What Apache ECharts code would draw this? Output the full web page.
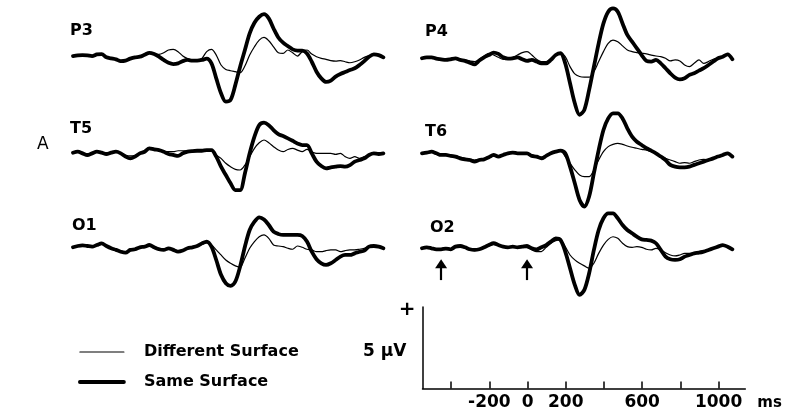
<!DOCTYPE html>
<html><head><meta charset="utf-8">
<script src="https://cdn.jsdelivr.net/npm/echarts@6/dist/echarts.min.js"></script>
<style>html,body{margin:0;padding:0;background:#fff}#chart{width:788px;height:416px}</style>
</head><body><div id="chart"></div>
<script>
// Sample times (ms) of the averaged ERP epochs
const times = [-550,-525,-500,-475,-450,-425,-400,-375,-350,-325,
  -300,-275,-250,-225,-200,-175,-150,-125,-100,-75,
  -50,-25,0,25,50,75,100,125,150,175,
  200,225,250,275,300,325,350,375,400,425,
  450,475,500,525,550,575,600,625,650,675,
  700,725,750,775,800,825,850,875,900,925,
  950,975,1000,1025,1050,1075];

const seriesNames = ['Different Surface', 'Same Surface'];
const panelNames = ['P3', 'P4', 'T5', 'T6', 'O1', 'O2'];

// Amplitudes in microvolts, positive up
const sameP3 = [0.04,0.08,0.10,0.08,0.04,0.14,0.16,-0.04,-0.10,-0.16,
  -0.27,-0.24,-0.12,-0.04,0,0.12,0.24,0.16,0,-0.20,
  -0.37,-0.45,-0.41,-0.27,-0.20,-0.24,-0.24,-0.20,-0.12,-0.41,
  -1.33,-2.24,-2.76,-2.65,-1.73,-0.61,0.41,1.43,2.08,2.45,
  2.61,2.35,1.73,1.18,0.86,0.65,0.45,0.37,0.37,0.20,
  -0.31,-0.92,-1.33,-1.55,-1.47,-1.22,-1.06,-0.94,-0.82,-0.71,
  -0.51,-0.27,0,0.14,0.10,-0.04];
const diffP3 = [0.04,0.08,0.10,0.08,0.04,0.14,0.16,-0.04,-0.10,-0.16,
  -0.27,-0.24,-0.12,-0.04,0,0.12,0.20,0.16,0.14,0.24,
  0.41,0.45,0.31,0.04,-0.12,-0.20,-0.20,-0.10,0.31,0.45,
  0.10,-0.51,-0.78,-0.86,-0.92,-0.98,-0.57,0.10,0.61,1.02,
  1.18,0.98,0.61,0.24,0.20,0.41,0.24,0.04,0.31,0.41,
  0.16,0,-0.10,-0.16,-0.24,-0.27,-0.24,-0.31,-0.37,-0.31,
  -0.20,-0.04,0.06,0.14,0.10,-0.04];

const sameP4 = [0,0.06,0.06,-0.02,-0.06,-0.10,-0.06,0,-0.10,-0.16,
  -0.27,-0.37,-0.14,0.06,0.20,0.35,0.27,0.06,-0.02,0,
  0.06,-0.06,-0.16,-0.10,-0.20,-0.31,-0.31,-0.10,0.20,0.31,
  -0.31,-1.53,-2.76,-3.47,-3.16,-1.94,-0.51,0.92,2.14,2.86,
  3.06,2.86,2.14,1.43,1.02,0.61,0.20,-0.16,-0.20,-0.10,
  -0.31,-0.61,-0.92,-1.18,-1.29,-1.22,-1.02,-0.92,-0.76,-0.61,
  -0.41,-0.20,0,0.10,0.24,-0.06];
const diffP4 = [0,0.04,0.06,-0.04,-0.10,-0.06,0,0.04,-0.06,-0.10,
  -0.16,-0.20,-0.06,0.14,0.31,0.20,0.06,-0.06,0,0.06,
  0.20,0.35,0.41,0.20,-0.06,-0.20,-0.20,0,0.20,0.35,
  0.10,-0.51,-0.96,-1.12,-1.16,-1.16,-0.82,-0.20,0.41,0.92,
  1.12,1.02,0.76,0.51,0.41,0.35,0.31,0.27,0.20,0.14,
  0.10,0,-0.16,-0.10,-0.16,-0.41,-0.51,-0.31,-0.10,-0.31,
  -0.20,-0.06,0,0.10,0.24,-0.06];

const sameT5 = [0,0.06,-0.04,-0.14,-0.04,0.06,0,-0.08,0,0.06,
  -0.04,-0.24,-0.35,-0.24,-0.04,0.06,0.27,0.20,0.16,0.06,
  -0.08,-0.14,-0.20,-0.04,0.06,0.10,0.12,0.12,0.16,0.16,
  -0.24,-0.86,-1.37,-1.88,-2.29,-2.29,-1.27,-0.04,0.98,1.69,
  1.84,1.69,1.39,1.14,1.02,0.88,0.73,0.57,0.47,0.47,
  -0.04,-0.55,-0.82,-0.96,-0.90,-0.86,-0.82,-0.86,-0.76,-0.55,
  -0.45,-0.35,-0.14,-0.04,-0.08,-0.04];
const diffT5 = [0.02,0.06,-0.02,-0.10,-0.04,0.06,0.02,-0.06,0,0.06,
  0,-0.14,-0.20,-0.16,-0.04,0.08,0.24,0.20,0.16,0.08,
  0.06,0.06,0.12,0.12,0.12,0.10,0.12,0.12,0.16,0.16,
  -0.14,-0.35,-0.65,-0.86,-1.02,-1.06,-0.76,-0.24,0.27,0.61,
  0.78,0.61,0.37,0.16,0.06,0.20,0.27,0.16,0.06,0.20,
  0.06,-0.04,-0.04,-0.04,-0.04,-0.10,-0.04,-0.24,-0.35,-0.24,
  -0.35,-0.24,-0.14,-0.04,-0.08,-0.04];

const sameT6 = [0,0.04,0.10,0,-0.10,-0.10,-0.16,-0.20,-0.31,-0.37,
  -0.41,-0.51,-0.41,-0.37,-0.24,-0.10,-0.20,-0.10,0,0.04,
  0,0,0,-0.16,-0.20,-0.31,-0.16,0,0.10,0.16,
  0,-0.82,-1.84,-2.86,-3.27,-2.65,-1.22,0.20,1.43,2.14,
  2.45,2.45,2.14,1.53,1.02,0.71,0.51,0.31,0.16,0,
  -0.20,-0.41,-0.71,-0.82,-0.86,-0.86,-0.82,-0.71,-0.61,-0.51,
  -0.41,-0.31,-0.20,-0.10,0,-0.20];
const diffT6 = [0.02,0.06,0.08,0.02,-0.06,-0.08,-0.12,-0.16,-0.24,-0.31,
  -0.35,-0.41,-0.37,-0.33,-0.27,-0.18,-0.14,-0.08,0,0.04,
  0.02,0.02,0,-0.10,-0.16,-0.24,-0.14,0,0.10,0.14,
  -0.20,-0.61,-1.02,-1.33,-1.43,-1.43,-1.02,-0.41,0.10,0.41,
  0.55,0.61,0.55,0.45,0.37,0.31,0.24,0.20,0.10,0,
  -0.16,-0.31,-0.41,-0.51,-0.61,-0.57,-0.61,-0.51,-0.41,-0.37,
  -0.41,-0.31,-0.20,-0.10,0,-0.20];

const sameO1 = [0,0.08,0.12,0.08,0.04,0.14,0.24,0.08,-0.06,-0.16,
  -0.27,-0.33,-0.16,-0.12,0,0.04,0.14,0,-0.12,-0.16,
  -0.06,-0.16,-0.27,-0.20,-0.06,0,0.08,0.24,0.35,0.04,
  -0.78,-1.69,-2.20,-2.37,-2.10,-1.18,0.04,1.06,1.57,1.84,
  1.71,1.37,0.96,0.82,0.76,0.76,0.76,0.76,0.69,0.35,
  -0.27,-0.73,-0.98,-1.08,-0.98,-0.78,-0.57,-0.47,-0.47,-0.37,
  -0.27,-0.20,0.04,0.08,0.04,-0.06];
const diffO1 = [0.02,0.06,0.10,0.10,0.06,0.12,0.18,0.06,-0.04,-0.12,
  -0.22,-0.27,-0.18,-0.08,0.02,0.06,0.10,0.04,-0.06,-0.12,
  -0.10,-0.12,-0.20,-0.16,-0.06,0,0.06,0.18,0.27,0.14,
  -0.16,-0.47,-0.78,-0.98,-1.14,-1.22,-0.67,-0.06,0.35,0.65,
  0.76,0.55,0.14,0.08,0.04,-0.06,-0.12,0.08,0,-0.12,
  -0.16,-0.27,-0.27,-0.20,-0.16,-0.16,-0.27,-0.20,-0.16,-0.16,
  -0.12,-0.06,0.04,0.08,0.04,-0.06];

const sameO2 = [0,0.06,0,-0.06,-0.06,-0.02,-0.06,0.10,0.14,0.06,
  -0.06,-0.10,-0.06,0.06,0.20,0.31,0.20,0.10,0.06,0.10,
  0.06,0.10,0.14,0,-0.06,0.06,0.20,0.41,0.61,0.51,
  -0.20,-1.22,-2.24,-2.86,-2.55,-1.53,-0.10,1.12,1.84,2.14,
  2.14,1.84,1.43,1.12,0.92,0.71,0.55,0.51,0.47,0.31,
  -0.10,-0.51,-0.67,-0.71,-0.67,-0.51,-0.41,-0.31,-0.27,-0.20,
  -0.10,0,0.10,0.20,0.10,-0.06];
const diffO2 = [0.02,0.04,0.02,-0.04,-0.08,-0.04,-0.02,0.06,0.08,0.02,
  -0.10,-0.14,-0.08,0.04,0.14,0.24,0.18,0.10,0.06,0.08,
  0.04,0.06,0.04,-0.10,-0.20,-0.20,0.06,0.31,0.47,0.51,
  0.10,-0.41,-0.71,-0.92,-1.08,-1.22,-0.92,-0.31,0.20,0.55,
  0.71,0.61,0.31,0.10,0.06,0.10,0.06,-0.06,-0.10,0,
  -0.10,-0.27,-0.41,-0.47,-0.41,-0.31,-0.31,-0.27,-0.20,-0.14,
  -0.10,0,0.10,0.20,0.10,-0.06];

// Stimulus onset markers (ms) shown under O2
const arrowTimes = [-450, 0];

// Calibration bar: time ticks and labelled ticks (ms), amplitude (µV)
const scaleTicks = [-400, -200, 0, 200, 400, 600, 800, 1000];
const scaleLabels = [-200, 0, 200, 600, 1000];
const scaleAmplitude = 5;

// ---- layout ----
const FONT = 'DejaVu Sans';
const pxPerMs = 0.191;
const pxPerUv = 16.3;
const tMin = -550, tMax = 1075;
const colLeft = [73, 422];
const rowBase = [[56.7, 58.3], [152.7, 153.3], [247.3, 248.3]];
const labelPos = [[70, 32], [425, 33], [70, 130], [425, 133], [72, 227], [430, 229]];
const uvRange = 5;

const sameData = [sameP3, sameP4, sameT5, sameT6, sameO1, sameO2];
const diffData = [diffP3, diffP4, diffT5, diffT6, diffO1, diffO2];

const grids = [], xAxes = [], yAxes = [], series = [], titles = [];
const pair = vals => times.map((t, i) => [t, vals[i]]);

panelNames.forEach((name, i) => {
  const row = Math.floor(i / 2), col = i % 2;
  const base = rowBase[row][col];
  grids.push({
    left: colLeft[col], top: base - uvRange * pxPerUv,
    width: (tMax - tMin) * pxPerMs, height: 2 * uvRange * pxPerUv,
    outerBoundsMode: 'none', containLabel: false
  });
  xAxes.push({ gridIndex: i, type: 'value', min: tMin, max: tMax, show: false });
  yAxes.push({ gridIndex: i, type: 'value', min: -uvRange, max: uvRange, show: false });
  const lineBase = {
    type: 'line', xAxisIndex: i, yAxisIndex: i, symbol: 'none', smooth: 0.3,
    clip: false, silent: true, itemStyle: { color: '#000' }
  };
  const same = Object.assign({}, lineBase, {
    name: seriesNames[1], data: pair(sameData[i]),
    lineStyle: { color: '#000', width: 3.8, cap: 'round', join: 'round' }, z: 2
  });
  const diff = Object.assign({}, lineBase, {
    name: seriesNames[0], data: pair(diffData[i]),
    lineStyle: { color: '#000', width: 1.2, cap: 'round', join: 'round' }, z: 3
  });
  if (name === 'O2') {
    same.markLine = {
      silent: true, symbol: ['none', 'triangle'], symbolSize: [12, 9],
      lineStyle: { color: '#000', width: 2.2, type: 'solid' }, label: { show: false },
      data: arrowTimes.map(t => [{ coord: [t, -1.95] }, { coord: [t, -0.95] }])
    };
  }
  series.push(same, diff);
  titles.push({
    text: name, left: labelPos[i][0], top: labelPos[i][1] - 9, padding: 0,
    textStyle: { fontFamily: FONT, fontWeight: 'bold', fontSize: 16, color: '#000' }
  });
});

titles.push({
  text: 'A', left: 37, top: 136, padding: 0,
  textStyle: { fontFamily: FONT, fontWeight: 'normal', fontSize: 17, color: '#000' }
});

// calibration axes
const si = panelNames.length;
const scaleMax = 1140;
grids.push({
  left: 422.5, top: 307, width: (scaleMax - tMin) * pxPerMs, height: scaleAmplitude * pxPerUv,
  outerBoundsMode: 'none', containLabel: false
});
xAxes.push({
  gridIndex: si, type: 'value', min: tMin, max: scaleMax,
  axisLine: { onZero: false, lineStyle: { color: '#000', width: 1.5 } },
  axisTick: { show: true, inside: true, length: 7, customValues: scaleTicks, lineStyle: { color: '#000', width: 1.5 } },
  axisLabel: {
    customValues: scaleLabels, formatter: v => String(v), margin: 6,
    color: '#000', fontFamily: FONT, fontWeight: 'bold', fontSize: 17
  },
  splitLine: { show: false },
  name: 'ms', nameLocation: 'end', nameGap: 12, nameMoveOverlap: false,
  nameTextStyle: { fontFamily: FONT, fontWeight: 'bold', fontSize: 15, color: '#000', verticalAlign: 'top', padding: [7, 0, 0, 0] }
});
yAxes.push({
  gridIndex: si, type: 'value', min: 0, max: scaleAmplitude,
  axisLine: { show: true, onZero: false, lineStyle: { color: '#000', width: 1.5 } },
  axisTick: { show: false },
  axisLabel: {
    customValues: [scaleAmplitude], formatter: () => '+', margin: 7, verticalAlign: 'top', lineHeight: 5,
    color: '#000', fontFamily: FONT, fontWeight: 'bold', fontSize: 20
  },
  splitLine: { show: false },
  name: scaleAmplitude + ' µV', nameLocation: 'middle', nameRotate: 0, nameGap: 16, nameMoveOverlap: false,
  nameTextStyle: { fontFamily: FONT, fontWeight: 'bold', fontSize: 17, color: '#000', verticalAlign: 'top', lineHeight: 8 }
});
series.push({ type: 'line', xAxisIndex: si, yAxisIndex: si, data: [], silent: true });

const chart = echarts.init(document.getElementById('chart'), null, { renderer: 'canvas' });
chart.setOption({
  animation: false,
  backgroundColor: '#fff',
  title: titles,
  legend: {
    orient: 'vertical', left: 78, top: 344, padding: 0,
    itemWidth: 44, itemHeight: 14, itemGap: 14, selectedMode: false,
    itemStyle: { opacity: 0 },
    data: [
      { name: seriesNames[0], lineStyle: { width: 1.2, color: '#000' } },
      { name: seriesNames[1], lineStyle: { width: 3.8, color: '#000' } }
    ],
    textStyle: { fontFamily: FONT, fontWeight: 'bold', fontSize: 16, color: '#000', padding: [0, 0, 0, 15] }
  },
  grid: grids, xAxis: xAxes, yAxis: yAxes, series: series
});
</script></body></html>
